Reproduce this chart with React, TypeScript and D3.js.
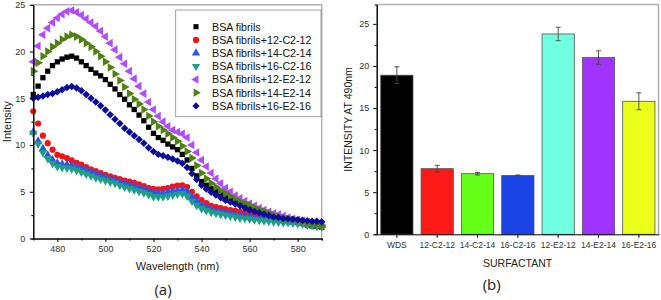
import { useEffect, useRef } from 'react';
import * as d3 from 'd3';

// ---- panel (a): emission spectra, sampled every 2 nm from 470 to 590 ----
const wavelengths = d3.range(470, 591, 2);

const bsaFibrils = [
  15.4, 16.3, 17.2, 17.9, 18.5, 18.9, 19.2, 19.4, 19.5, 19.3, 18.9, 18.5, 18.1, 17.7, 17.4, 17.0,
  16.5, 16.0, 15.4, 14.9, 14.3, 13.8, 13.2, 12.6, 11.9, 11.25, 10.8, 10.5, 10.1, 9.8, 9.5, 9.0,
  8.4, 7.5, 6.7, 6.1, 5.7, 5.35, 5.05, 4.75, 4.5, 4.25, 4.0, 3.8, 3.6, 3.4, 3.2, 2.95, 2.75, 2.55,
  2.4, 2.25, 2.1, 1.95, 1.8, 1.7, 1.6, 1.45, 1.35, 1.3, 1.2,
];
const c2_12 = [
  13.6, 12.3, 11.0, 10.2, 9.5, 8.95, 8.8, 8.6, 8.35, 8.1, 7.9, 7.65, 7.4, 7.2, 7.0, 6.8,
  6.65, 6.5, 6.35, 6.2, 6.1, 5.95, 5.8, 5.6, 5.4, 5.3, 5.25, 5.3, 5.4, 5.55, 5.65, 5.7,
  5.5, 5.0, 4.5, 4.1, 3.8, 3.5, 3.35, 3.25, 3.15, 3.05, 2.95, 2.85, 2.75, 2.7, 2.6, 2.5, 2.4, 2.3,
  2.25, 2.15, 2.05, 1.95, 1.85, 1.8, 1.7, 1.65, 1.55, 1.5, 1.4,
];
const c2_14 = [
  11.4, 10.4, 9.6, 8.9, 8.4, 8.05, 7.95, 7.9, 7.8, 7.65, 7.5, 7.3, 7.1, 6.9, 6.7, 6.5,
  6.35, 6.2, 6.0, 5.85, 5.7, 5.55, 5.4, 5.25, 5.05, 4.9, 4.85, 4.85, 4.95, 5.05, 5.15, 5.2,
  5.0, 4.45, 4.0, 3.6, 3.35, 3.1, 2.95, 2.85, 2.75, 2.65, 2.55, 2.45, 2.35, 2.3, 2.2, 2.15, 2.1, 2.05,
  2.0, 1.95, 1.9, 1.8, 1.75, 1.7, 1.65, 1.6, 1.5, 1.45, 1.4,
];
const c2_16 = [
  11.25, 10.1, 9.2, 8.55, 8.05, 7.7, 7.6, 7.55, 7.45, 7.3, 7.1, 6.9, 6.7, 6.5, 6.35, 6.2,
  6.05, 5.9, 5.7, 5.5, 5.35, 5.2, 5.05, 4.9, 4.7, 4.5, 4.45, 4.45, 4.55, 4.65, 4.75, 4.8,
  4.55, 4.0, 3.55, 3.2, 3.0, 2.8, 2.7, 2.6, 2.5, 2.4, 2.3, 2.2, 2.15, 2.1, 2.0, 1.95, 1.9, 1.85,
  1.8, 1.75, 1.7, 1.7, 1.65, 1.6, 1.55, 1.45, 1.4, 1.3, 1.25,
];
const e2_12 = [
  18.9, 20.6, 21.8, 22.5, 23.1, 23.6, 24.0, 24.3, 24.4, 24.2, 23.9, 23.5, 23.1, 22.7, 22.2, 21.6,
  20.9, 20.2, 19.4, 18.7, 17.9, 17.1, 16.3, 15.5, 14.6, 13.8, 13.1, 12.5, 12.0, 11.6, 11.4, 11.2,
  10.8, 10.0, 9.2, 8.4, 7.7, 7.0, 6.4, 5.9, 5.4, 5.0, 4.6, 4.3, 4.0, 3.75, 3.5, 3.25, 3.05, 2.85,
  2.7, 2.55, 2.4, 2.25, 2.1, 2.0, 1.9, 1.75, 1.65, 1.55, 1.45,
];
const e2_14 = [
  17.9, 18.8, 19.5, 20.0, 20.5, 20.9, 21.3, 21.6, 21.8, 21.6, 21.3, 20.9, 20.5, 20.0, 19.5, 18.9,
  18.3, 17.6, 16.9, 16.2, 15.5, 14.9, 14.4, 13.8, 13.1, 12.5, 12.0, 11.6, 11.2, 10.8, 10.4, 9.9,
  9.3, 8.6, 7.8, 7.0, 6.4, 5.9, 5.5, 5.1, 4.8, 4.5, 4.2, 3.95, 3.75, 3.55, 3.3, 3.1, 2.9, 2.7,
  2.5, 2.35, 2.2, 2.1, 2.0, 1.9, 1.8, 1.65, 1.55, 1.45, 1.35,
];
const e2_16 = [
  15.0, 15.1, 15.25, 15.4, 15.5, 15.7, 15.9, 16.15, 16.25, 16.1, 15.8, 15.4, 15.0, 14.6, 14.2, 13.75,
  13.25, 12.75, 12.3, 11.8, 11.4, 11.0, 10.6, 10.2, 9.7, 9.3, 9.0, 8.85, 8.7, 8.5, 8.3, 8.05,
  7.6, 6.95, 6.3, 5.7, 5.3, 4.95, 4.65, 4.35, 4.1, 3.9, 3.7, 3.5, 3.25, 3.05, 2.9, 2.75, 2.6, 2.45,
  2.3, 2.25, 2.15, 2.1, 2.05, 2.0, 1.95, 1.9, 1.85, 1.85, 1.8,
];

const seriesNames = [
  'BSA fibrils',
  'BSA fibrils+12-C2-12',
  'BSA fibrils+14-C2-14',
  'BSA fibrils+16-C2-16',
  'BSA fibrils+12-E2-12',
  'BSA fibrils+14-E2-14',
  'BSA fibrils+16-E2-16',
];
const seriesValues = [bsaFibrils, c2_12, c2_14, c2_16, e2_12, e2_14, e2_16];
const seriesColors = ['#000000', '#ff1010', '#2a55f0', '#1f9e88', '#b24cff', '#4f8010', '#0a0a9c'];
// symbol type + rotation for each series
const seriesShapes: [d3.SymbolType, number][] = [
  [d3.symbolSquare, 0],
  [d3.symbolCircle, 0],
  [d3.symbolTriangle, 0],
  [d3.symbolTriangle, 180],
  [d3.symbolTriangle, -90],
  [d3.symbolTriangle, 90],
  [d3.symbolSquare, 45],
];

const spectraXTicks = [480, 500, 520, 540, 560, 580];
const spectraXMinor = [490, 510, 530, 550, 570, 590];
const spectraYTicks = [0, 5, 10, 15, 20, 25];
const spectraYMinor = [2.5, 7.5, 12.5, 17.5, 22.5];

// ---- panel (b): intensity at 490 nm ----
const surfactants = ['WDS', '12-C2-12', '14-C2-14', '16-C2-16', '12-E2-12', '14-E2-14', '16-E2-16'];
const intensity490 = [18.9, 7.8, 7.2, 7.0, 23.8, 21.0, 15.8];
const intensityErr = [1.0, 0.4, 0.15, 0.05, 0.8, 0.8, 1.0];
const barColors = ['#000000', '#ff1a1a', '#66ff1a', '#1a44e6', '#70ffe0', '#a033ff', '#eaff1a'];
const barYTicks = [0, 5, 10, 15, 20, 25];
const barYMinor = [2.5, 7.5, 12.5, 17.5, 22.5];

const FONT = '"Liberation Sans", Arial, sans-serif';

// marker area for the plot and for the legend
function markerSize(type: d3.SymbolType, legend: boolean) {
  if (type === d3.symbolCircle) return legend ? 30 : 30;
  if (type === d3.symbolTriangle) return legend ? 30 : 32;
  return legend ? 26 : 28;
}

export default function App() {
  const svgRef = useRef<SVGSVGElement>(null);

  useEffect(() => {
    if (!svgRef.current) return;
    const svg = d3.select(svgRef.current);
    svg.selectAll('*').remove();
    svg.attr('font-family', FONT);

    // ================= panel (a) =================
    const ax = { left: 33.3, right: 321.7, top: 4.8, bottom: 238.5 };
    const x = d3.scaleLinear().domain([470, 590]).range([ax.left, ax.right]);
    const y = d3.scaleLinear().domain([0, 25]).range([ax.bottom, ax.top]);

    const a = svg.append('g');

    // frame (top/right grey)
    a.append('path')
      .attr('d', `M${ax.left},${ax.top}H${ax.right}V${ax.bottom}`)
      .attr('fill', 'none')
      .attr('stroke', '#b0b0b0')
      .attr('stroke-width', 1.5);

    // series, drawn in legend order so the last one is on top
    seriesValues.forEach((vals, i) => {
      const [type, rot] = seriesShapes[i];
      const sym = d3.symbol().type(type).size(markerSize(type, false));
      a.append('g')
        .selectAll('path')
        .data(vals)
        .enter()
        .append('path')
        .attr('d', sym)
        .attr('transform', (d, j) => `translate(${x(wavelengths[j])},${y(d)}) rotate(${rot})`)
        .attr('fill', seriesColors[i]);
    });

    // axes
    const styleAxis = (g: d3.Selection<SVGGElement, unknown, null, undefined>) => {
      g.selectAll('.domain').attr('stroke', '#000');
      g.selectAll('.tick line').attr('stroke', '#000');
      g.selectAll('text').attr('fill', '#333').attr('font-size', '9px').attr('font-family', FONT);
    };

    a.append('g')
      .attr('transform', `translate(0,${ax.bottom})`)
      .call(d3.axisBottom(x).tickValues(spectraXMinor).tickSize(2).tickFormat(() => ''))
      .call(styleAxis);
    a.append('g')
      .attr('transform', `translate(0,${ax.bottom})`)
      .call(d3.axisBottom(x).tickValues(spectraXTicks).tickSize(3.5).tickSizeOuter(0).tickPadding(4))
      .call(styleAxis);
    a.append('g')
      .attr('transform', `translate(${ax.left},0)`)
      .call(d3.axisLeft(y).tickValues(spectraYMinor).tickSize(2).tickFormat(() => ''))
      .call(styleAxis);
    a.append('g')
      .attr('transform', `translate(${ax.left},0)`)
      .call(d3.axisLeft(y).tickValues(spectraYTicks).tickSize(3.5).tickSizeOuter(0).tickPadding(4.5))
      .call(styleAxis);

    a.append('text')
      .attr('x', (ax.left + ax.right) / 2)
      .attr('y', 269.5)
      .attr('text-anchor', 'middle')
      .attr('font-size', '11px')
      .attr('fill', '#222')
      .text('Wavelength (nm)');
    a.append('text')
      .attr('transform', `translate(11,${(ax.top + ax.bottom) / 2}) rotate(-90)`)
      .attr('text-anchor', 'middle')
      .attr('font-size', '11px')
      .attr('fill', '#222')
      .text('Intensity');
    a.append('text')
      .attr('x', 163)
      .attr('y', 295)
      .attr('text-anchor', 'middle')
      .attr('font-size', '15px')
      .attr('font-family', '"Open Sans", sans-serif')
      .attr('fill', '#222')
      .text('(a)');

    // legend
    const lg = a.append('g');
    lg.append('rect')
      .attr('x', 175.7)
      .attr('y', 10)
      .attr('width', 145.3)
      .attr('height', 106.7)
      .attr('fill', '#fff')
      .attr('stroke', '#8a8a8a')
      .attr('stroke-width', 0.8);
    seriesNames.forEach((name, i) => {
      const cy = 26.7 + i * 13.2;
      const [type, rot] = seriesShapes[i];
      lg.append('path')
        .attr('d', d3.symbol().type(type).size(markerSize(type, true))())
        .attr('transform', `translate(196,${cy}) rotate(${rot})`)
        .attr('fill', seriesColors[i]);
      lg.append('text')
        .attr('x', 212)
        .attr('y', cy + 3.8)
        .attr('font-size', '10.7px')
        .attr('fill', '#111')
        .text(name);
    });

    // ================= panel (b) =================
    const bx = { left: 376.7, right: 658.5, top: 4.5, bottom: 234.3 };
    const xb = d3
      .scaleBand()
      .domain(surfactants)
      .range([bx.left, bx.right + 0.5])
      .paddingInner(0.2)
      .paddingOuter(0.1);
    const yb = d3.scaleLinear().domain([0, 27.3]).range([bx.bottom, bx.top]);

    const b = svg.append('g');
    b.append('path')
      .attr('d', `M${bx.left},${bx.top}H${bx.right}V${bx.bottom}`)
      .attr('fill', 'none')
      .attr('stroke', '#b0b0b0')
      .attr('stroke-width', 1.5);

    b.selectAll('.bar')
      .data(surfactants)
      .enter()
      .append('rect')
      .attr('class', 'bar')
      .attr('x', (d) => xb(d) || 0)
      .attr('y', (d, i) => yb(intensity490[i]))
      .attr('width', xb.bandwidth())
      .attr('height', (d, i) => bx.bottom - yb(intensity490[i]))
      .attr('fill', (d, i) => barColors[i])
      .attr('stroke', '#555')
      .attr('stroke-width', 0.8);

    // error bars
    surfactants.forEach((s, i) => {
      const cx = (xb(s) || 0) + xb.bandwidth() / 2;
      const y0 = yb(intensity490[i] - intensityErr[i]);
      const y1 = yb(intensity490[i] + intensityErr[i]);
      b.append('path')
        .attr('d', `M${cx},${y0}V${y1}M${cx - 2.5},${y0}H${cx + 2.5}M${cx - 2.5},${y1}H${cx + 2.5}`)
        .attr('fill', 'none')
        .attr('stroke', '#444')
        .attr('stroke-width', 0.9);
    });

    b.append('g')
      .attr('transform', `translate(0,${bx.bottom})`)
      .call(d3.axisBottom(xb).tickSize(3.5).tickSizeOuter(0).tickPadding(4))
      .call(styleAxis)
      .selectAll('text')
      .attr('font-size', '8.5px');
    b.append('g')
      .attr('transform', `translate(${bx.left},0)`)
      .call(d3.axisLeft(yb).tickValues(barYMinor).tickSize(2).tickFormat(() => ''))
      .call(styleAxis);
    b.append('g')
      .attr('transform', `translate(${bx.left},0)`)
      .call(d3.axisLeft(yb).tickValues(barYTicks).tickSize(3.5).tickSizeOuter(0).tickPadding(4))
      .call(styleAxis);

    b.append('text')
      .attr('x', (bx.left + bx.right) / 2)
      .attr('y', 266.5)
      .attr('text-anchor', 'middle')
      .attr('font-size', '10.5px')
      .attr('fill', '#222')
      .text('SURFACTANT');
    b.append('text')
      .attr('transform', `translate(352,${(bx.top + bx.bottom) / 2}) rotate(-90)`)
      .attr('text-anchor', 'middle')
      .attr('font-size', '10.5px')
      .attr('fill', '#222')
      .text('INTENSITY AT 490nm');
    b.append('text')
      .attr('x', 491.7)
      .attr('y', 290)
      .attr('text-anchor', 'middle')
      .attr('font-size', '15px')
      .attr('font-family', '"Open Sans", sans-serif')
      .attr('fill', '#222')
      .text('(b)');
  }, []);

  return (
    <svg
      ref={svgRef}
      width={661}
      height={300}
      style={{ position: 'absolute', left: 0, top: 0, background: '#fff' }}
    />
  );
}
